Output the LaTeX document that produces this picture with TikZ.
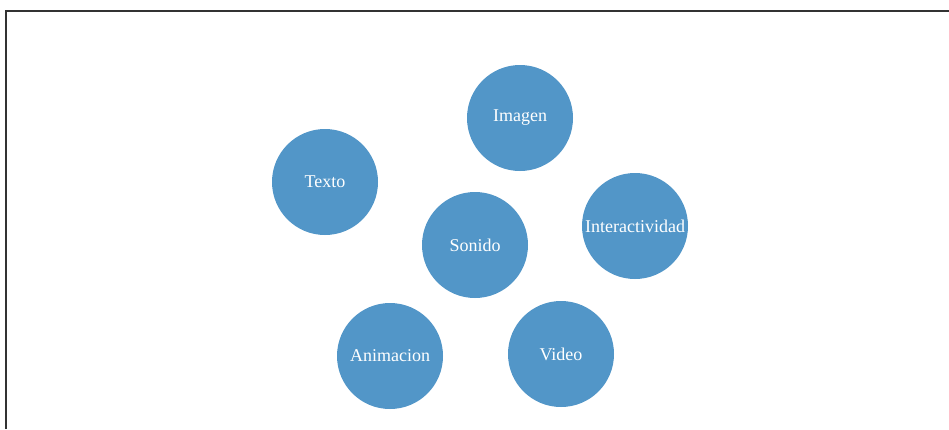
\documentclass[tikz,border=0pt]{standalone}
\usepackage{fontspec}
\setmainfont{Liberation Serif}
\definecolor{bubble}{RGB}{82,150,200}
\definecolor{frame}{RGB}{50,50,50}
\begin{document}
\begin{tikzpicture}[x=1pt,y=-1pt,
  bub/.style={circle,fill=bubble,minimum size=106pt,inner sep=0pt,text=white,font=\fontsize{18}{20}\selectfont}]
\useasboundingbox (0,0) rectangle (949,429);
\fill[white] (0,0) rectangle (949,429);
\coordinate (fa) at (6,429);
\coordinate (fb) at (6,11);
\coordinate (fc) at (949,11);
\draw[frame,line width=1.8pt] (fa) -- (fb) -- (fc);
\node[bub] (imagen) at (520,118) {Imagen};
\node[bub] (texto) at (325,182) {Texto};
\node[bub] (inter) at (635,226) {Interactividad};
\node[bub] (sonido) at (475,245) {Sonido};
\node[bub] (anim) at (390,356) {Animacion};
\node[bub] (video) at (561,354) {Video};
\end{tikzpicture}
\end{document}
